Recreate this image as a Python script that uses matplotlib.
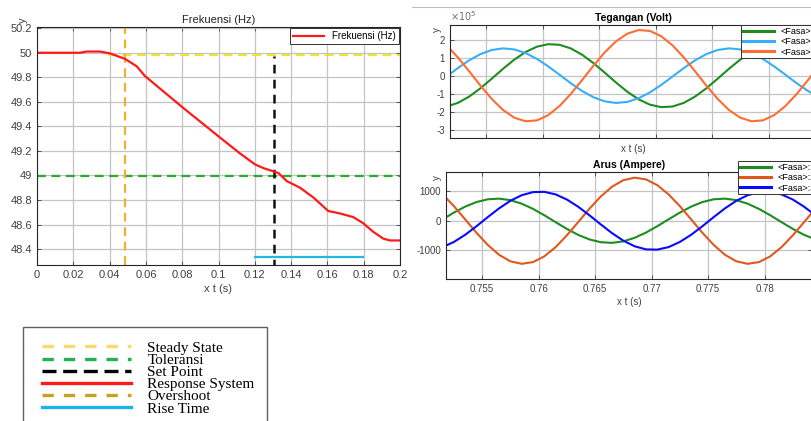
import matplotlib
matplotlib.use("Agg")
import matplotlib.pyplot as plt
from matplotlib.lines import Line2D
from matplotlib.patches import Rectangle
from matplotlib.ticker import FuncFormatter

plt.rcParams["font.family"] = ["Liberation Sans", "DejaVu Sans"]
plt.rcParams["axes.unicode_minus"] = False

# ---- frequency response (left panel) ----
t_freq = [0, 0.0237, 0.0274, 0.0347, 0.0402, 0.0485, 0.0549, 0.0595, 0.0806,
          0.0999, 0.1118, 0.1201, 0.1247, 0.1330, 0.1376, 0.1449, 0.1523,
          0.1605, 0.1670, 0.1743, 0.1798, 0.1853, 0.1908, 0.1945, 0.2]
f_freq = [50.0, 50.0, 50.01, 50.01, 49.995, 49.95, 49.89, 49.81, 49.55,
          49.32, 49.18, 49.09, 49.06, 49.02, 48.954, 48.90, 48.82,
          48.71, 48.69, 48.66, 48.61, 48.54, 48.485, 48.47, 48.47]

steady_state_hz = 49.985
steady_state_t = [0.039, 0.2]
tolerance_hz = 48.995
set_point_t = 0.1306
set_point_top = 49.97
overshoot_t = 0.0485
rise_time_hz = 48.335
rise_time_t = [0.1201, 0.1794]

freq_xticks = [0, 0.02, 0.04, 0.06, 0.08, 0.1, 0.12, 0.14, 0.16, 0.18, 0.2]
freq_yticks = [48.4, 48.6, 48.8, 49.0, 49.2, 49.4, 49.6, 49.8, 50.0, 50.2]

# ---- three-phase signals (right panels) ----
t_phase = [0.7515, 0.7525, 0.7535, 0.7545, 0.7555, 0.7565, 0.7575, 0.7585,
           0.7595, 0.7605, 0.7615, 0.7625, 0.7635, 0.7645, 0.7655, 0.7665,
           0.7675, 0.7685, 0.7695, 0.7705, 0.7715, 0.7725, 0.7735, 0.7745,
           0.7755, 0.7765, 0.7775, 0.7785, 0.7795, 0.7805, 0.7815, 0.7825,
           0.7835, 0.7845, 0.7855, 0.7865]

# voltage, units of 1e5 V
v_fasa1 = [-1.718, -1.515, -1.164, -0.699, -0.166, 0.384, 0.896, 1.320, 1.615,
           1.752, 1.718, 1.515, 1.164, 0.699, 0.166, -0.384, -0.896, -1.320,
           -1.615, -1.752, -1.718, -1.515, -1.164, -0.699, -0.166, 0.384,
           0.896, 1.320, 1.615, 1.752, 1.718, 1.515, 1.164, 0.699, 0.166, -0.384]
v_fasa2 = [-0.048, 0.424, 0.854, 1.201, 1.430, 1.519, 1.460, 1.257, 0.932,
           0.515, 0.048, -0.424, -0.854, -1.201, -1.430, -1.519, -1.460, -1.257,
           -0.932, -0.515, -0.048, 0.424, 0.854, 1.201, 1.430, 1.519, 1.460,
           1.257, 0.932, 0.515, 0.048, -0.424, -0.854, -1.201, -1.430, -1.519]
v_fasa3 = [1.686, 1.013, 0.240, -0.556, -1.298, -1.913, -2.340, -2.539, -2.489,
           -2.195, -1.686, -1.013, -0.240, 0.556, 1.298, 1.913, 2.340, 2.539,
           2.489, 2.195, 1.686, 1.013, 0.240, -0.556, -1.298, -1.913, -2.340,
           -2.539, -2.489, -2.195, -1.686, -1.013, -0.240, 0.556, 1.298, 1.913]

# current, A
i_fasa1 = [47, 274, 475, 629, 722, 744, 693, 574, 399, 185, -47, -274, -475,
           -629, -722, -744, -693, -574, -399, -185, 47, 274, 475, 629, 722,
           744, 693, 574, 399, 185, -47, -274, -475, -629, -722, -744]
i_fasa2 = [889, 491, 46, -405, -815, -1146, -1364, -1449, -1392, -1199, -889,
           -491, -46, 405, 815, 1146, 1364, 1449, 1392, 1199, 889, 491, 46,
           -405, -815, -1146, -1364, -1449, -1392, -1199, -889, -491, -46, 405,
           815, 1146]
i_fasa3 = [-887, -714, -472, -184, 123, 417, 671, 859, 963, 972, 887, 714, 472,
           184, -123, -417, -671, -859, -963, -972, -887, -714, -472, -184, 123,
           417, 671, 859, 963, 972, 887, 714, 472, 184, -123, -417]

phase_xticks = [0.755, 0.76, 0.765, 0.77, 0.775, 0.78]
volt_yticks = [-3, -2, -1, 0, 1, 2]
amp_yticks = [-1000, 0, 1000]
phase_labels = ["<Fasa>:1", "<Fasa>:2", "<Fasa>:3"]

W, H = 811, 421
GRID = "#c4c4c4"
TXT = "#404040"


def box(left, top, right, bottom):
    return [left / W, 1 - bottom / H, (right - left) / W, (bottom - top) / H]


def matlab_style(ax, size):
    ax.tick_params(direction="in", length=3, width=0.6, labelsize=size,
                   colors=TXT, top=True, right=True)
    for sp in ax.spines.values():
        sp.set_color("#262626")
        sp.set_linewidth(0.8)
    ax.grid(True, color=GRID, linewidth=0.9)
    ax.set_axisbelow(True)


fig = plt.figure(figsize=(W / 100, H / 100), dpi=100)
fmt = FuncFormatter(lambda v, p: f"{v:g}")

# ---------------- left: Frekuensi ----------------
ax1 = fig.add_axes(box(37, 27, 400, 265))
ax1.plot(steady_state_t, [steady_state_hz] * 2, color="#f2e22a", lw=1.6,
         dashes=(4, 2.5))
ax1.axhline(tolerance_hz, color="#2ea82e", lw=1.6, dashes=(4, 2.5))
ax1.axvline(overshoot_t, color="#f0b22e", lw=1.6, dashes=(4, 2.5))
ax1.plot([set_point_t] * 2, [48.0, set_point_top], color="#111111", lw=1.8,
         dashes=(3.5, 2.5))
ax1.plot(rise_time_t, [rise_time_hz] * 2, color="#22b8e0", lw=1.6)
ax1.plot(t_freq, f_freq, color="#ff1a1a", lw=1.6, label="Frekuensi (Hz)")
ax1.set_xlim(0, 0.2)
ax1.set_ylim(48.27, 50.21)
ax1.set_xticks(freq_xticks)
ax1.set_yticks(freq_yticks)
ax1.xaxis.set_major_formatter(fmt)
ax1.yaxis.set_major_formatter(fmt)
matlab_style(ax1, 8)
ax1.set_title("Frekuensi (Hz)", fontsize=8, color="#222222", pad=3)
ax1.set_xlabel("x t (s)", fontsize=8, color=TXT, labelpad=3)
leg = ax1.legend(loc="upper right", fontsize=7, fancybox=False,
                 borderaxespad=0.15, handlelength=3.2, borderpad=0.3,
                 framealpha=1)
leg.get_frame().set_edgecolor("#333333")
leg.get_frame().set_linewidth(0.7)
fig.text(23 / W, 1 - 20 / H, "y", rotation=90, ha="center", va="center",
         fontsize=8, color=TXT)

# ---------------- top right: Tegangan ----------------
ax2 = fig.add_axes(box(450, 25, 816, 138))
l1, = ax2.plot(t_phase, [v * 1e5 for v in v_fasa1], color="#1e8c1e", lw=1.5)
l2, = ax2.plot(t_phase, [v * 1e5 for v in v_fasa2], color="#38aef5", lw=1.5)
l3, = ax2.plot(t_phase, [v * 1e5 for v in v_fasa3], color="#fb6d35", lw=1.5)
ax2.set_xlim(0.7518, 0.7842)
ax2.set_ylim(-3.47e5, 2.82e5)
ax2.set_xticks(phase_xticks)
ax2.set_yticks([v * 1e5 for v in volt_yticks])
ax2.yaxis.set_major_formatter(FuncFormatter(lambda v, p: f"{v / 1e5:g}"))
matlab_style(ax2, 7)
ax2.tick_params(labelbottom=False)
ax2.text(0.0, 1.02, r"$\times10^{5}$", transform=ax2.transAxes, ha="left",
         va="bottom", fontsize=7, color="#707070")
ax2.set_title("Tegangan (Volt)", fontsize=7.5, fontweight="bold", pad=3)
ax2.set_xlabel("x t (s)", fontsize=7, color=TXT, labelpad=4)
fig.text(437 / W, 1 - 30 / H, "y", rotation=90, ha="center", va="center",
         fontsize=7, color=TXT)
lg2 = fig.legend([l1, l2, l3], phase_labels, loc="upper left",
                 bbox_to_anchor=(741 / W, 1 - 25 / H), fontsize=6.5,
                 fancybox=False, handlelength=3.4, borderpad=0.2,
                 labelspacing=0.15, framealpha=1, borderaxespad=0)
lg2.get_frame().set_edgecolor("#333333")
lg2.get_frame().set_linewidth(0.7)
for ln in lg2.get_lines():
    ln.set_linewidth(2.2)

# ---------------- bottom right: Arus ----------------
ax3 = fig.add_axes(box(446, 172, 812, 279))
m1, = ax3.plot(t_phase, i_fasa1, color="#1e8c1e", lw=1.5)
m2, = ax3.plot(t_phase, i_fasa2, color="#e0581e", lw=1.5)
m3, = ax3.plot(t_phase, i_fasa3, color="#0a0aff", lw=1.5)
ax3.set_xlim(0.7518, 0.7842)
ax3.set_ylim(-1960, 1640)
ax3.set_xticks(phase_xticks)
ax3.set_yticks(amp_yticks)
ax3.xaxis.set_major_formatter(fmt)
matlab_style(ax3, 7)
ax3.set_title("Arus (Ampere)", fontsize=7.5, fontweight="bold", pad=3)
ax3.set_xlabel("x t (s)", fontsize=7, color=TXT, labelpad=2)
fig.text(437 / W, 1 - 178 / H, "y", rotation=90, ha="center", va="center",
         fontsize=7, color=TXT)
lg3 = fig.legend([m1, m2, m3], phase_labels, loc="upper left",
                 bbox_to_anchor=(738 / W, 1 - 161 / H), fontsize=6.5,
                 fancybox=False, handlelength=3.4, borderpad=0.2,
                 labelspacing=0.15, framealpha=1, borderaxespad=0)
lg3.get_frame().set_edgecolor("#333333")
lg3.get_frame().set_linewidth(0.7)
for ln in lg3.get_lines():
    ln.set_linewidth(2.2)

# thin separator line above the right-hand figure
fig.add_artist(Line2D([412 / W, 1], [1 - 7 / H] * 2, color="#bdbdbd", lw=0.8))

# ---------------- bottom-left key (pasted legend) ----------------
fig.add_artist(Rectangle((23 / W, -0.05), (267 - 23) / W, (421 - 327) / H + 0.05,
                         transform=fig.transFigure, fill=False,
                         edgecolor="#606060", lw=1.0))
key_handles = [
    Line2D([], [], color="#fcd96a", lw=2.4, dashes=(3.4, 3.0)),
    Line2D([], [], color="#22b14c", lw=2.4, dashes=(3.4, 3.0)),
    Line2D([], [], color="#000000", lw=2.4, dashes=(4.2, 2.0)),
    Line2D([], [], color="#ff1a1a", lw=2.4),
    Line2D([], [], color="#c9a021", lw=2.4, dashes=(3.4, 3.0)),
    Line2D([], [], color="#1ab2ea", lw=2.4),
]
key_labels = ["Steady State", "Toleransi", "Set Point", "Response System",
              "Overshoot", "Rise Time"]
fig.legend(key_handles, key_labels, loc="upper left",
           bbox_to_anchor=(42 / W, 1 - 341 / H), frameon=False,
           prop={"family": "Liberation Serif", "size": 11},
           handlelength=5.8, handletextpad=1.1, labelspacing=-0.1,
           borderpad=0, borderaxespad=0)

fig.savefig("out.png", dpi=100)
